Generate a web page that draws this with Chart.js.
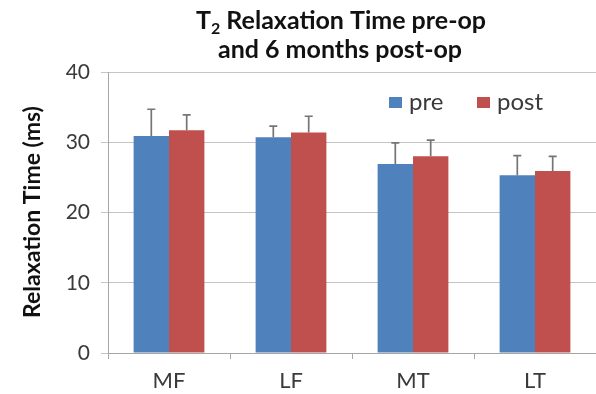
<!DOCTYPE html>
<html>
<head>
<meta charset="utf-8">
<script src="https://cdn.jsdelivr.net/npm/chart.js@4"></script>
<style>
  html, body { margin: 0; padding: 0; background: #fff; }
  #wrap { width: 596px; height: 394px; }
</style>
</head>
<body>
<div id="wrap"><canvas id="chart" width="596" height="394"></canvas></div>
<script>
// Knee cartilage regions
const regions = ['MF', 'LF', 'MT', 'LT'];
// Mean T2 relaxation time (ms)
const preValues = [30.9, 30.7, 26.9, 25.3];
const postValues = [31.7, 31.4, 28.0, 25.9];
// Standard deviations (upper error bars)
const preErrors = [3.8, 1.6, 3.0, 2.8];
const postErrors = [2.2, 2.3, 2.3, 2.1];
// Y axis ticks
const yTicks = [0, 10, 20, 30, 40];

const FONT = 'Lato, "Open Sans", sans-serif';
const BLUE = '#4F81BD';
const RED = '#C0504D';
const TEXT = '#3a3a3a';

const errorBars = {
  id: 'errorBars',
  afterDatasetsDraw(chart) {
    const ctx = chart.ctx;
    const y = chart.scales.y;
    ctx.save();
    ctx.strokeStyle = '#757575';
    ctx.lineWidth = 1.7;
    chart.data.datasets.forEach((ds, di) => {
      const meta = chart.getDatasetMeta(di);
      meta.data.forEach((bar, i) => {
        const top = y.getPixelForValue(ds.data[i] + ds.errors[i]);
        const base = y.getPixelForValue(ds.data[i]);
        ctx.beginPath();
        ctx.moveTo(bar.x, base);
        ctx.lineTo(bar.x, top);
        ctx.moveTo(bar.x - 4, top);
        ctx.lineTo(bar.x + 4, top);
        ctx.stroke();
      });
    });
    ctx.restore();
  }
};

const decorations = {
  id: 'decorations',
  afterDraw(chart) {
    const ctx = chart.ctx;
    ctx.save();
    // Title with subscript 2
    ctx.fillStyle = '#111';
    ctx.textBaseline = 'alphabetic';
    ctx.textAlign = 'left';
    const big = 'bold 25px ' + FONT;
    const small = 'bold 16px ' + FONT;
    ctx.font = big;
    const wT = ctx.measureText('T').width;
    const rest = ' Relaxation Time pre-op';
    const wRest = ctx.measureText(rest).width;
    ctx.font = small;
    const w2 = ctx.measureText('2').width;
    const total = wT + w2 + wRest;
    const x = 341 - total / 2;
    ctx.font = big;
    ctx.fillText('T', x, 29);
    ctx.font = small;
    ctx.fillText('2', x + wT, 34);
    ctx.font = big;
    ctx.fillText(rest, x + wT + w2, 29);
    ctx.textAlign = 'center';
    ctx.fillText('and 6 months post-op', 340, 58);

    // Y axis title
    ctx.save();
    ctx.translate(33, 212);
    ctx.rotate(-Math.PI / 2);
    ctx.font = 'bold 23px ' + FONT;
    ctx.textAlign = 'center';
    ctx.textBaseline = 'middle';
    ctx.fillText('Relaxation Time (ms)', 0, 0);
    ctx.restore();

    // Legend
    ctx.font = '24px ' + FONT;
    ctx.textAlign = 'left';
    ctx.textBaseline = 'middle';
    const items = [
      { label: chart.data.datasets[0].label, color: BLUE, x: 389 },
      { label: chart.data.datasets[1].label, color: RED, x: 477 }
    ];
    items.forEach(it => {
      ctx.fillStyle = it.color;
      ctx.fillRect(it.x, 97, 13, 11);
      ctx.fillStyle = TEXT;
      ctx.fillText(it.label, it.x + 20, 102);
    });
    ctx.restore();
  }
};

new Chart(document.getElementById('chart'), {
  type: 'bar',
  data: {
    labels: regions,
    datasets: [
      { label: 'pre', data: preValues, errors: preErrors, backgroundColor: BLUE },
      { label: 'post', data: postValues, errors: postErrors, backgroundColor: RED }
    ]
  },
  options: {
    responsive: false,
    animation: false,
    devicePixelRatio: 1,
    layout: { padding: { top: 72, right: 0, left: 0, bottom: 0 } },
    datasets: { bar: { barPercentage: 1, categoryPercentage: 0.58 } },
    plugins: { legend: { display: false }, title: { display: false }, tooltip: { enabled: false } },
    scales: {
      x: {
        grid: { drawOnChartArea: false, drawTicks: true, tickLength: 6, color: '#a6a6a6' },
        border: { color: '#a6a6a6' },
        ticks: { color: TEXT, font: { family: FONT, size: 22 }, padding: 9 },
        afterFit(scale) { scale.height = 41; }
      },
      y: {
        min: 0, max: 40,
        afterBuildTicks(scale) { scale.ticks = yTicks.map(v => ({ value: v })); },
        grid: { color: '#c4c4c4', tickLength: 7 },
        border: { color: '#a6a6a6' },
        ticks: { color: TEXT, font: { family: FONT, size: 21 }, padding: 11 },
        afterFit(scale) { scale.width = 108; }
      }
    }
  },
  plugins: [errorBars, decorations]
});
</script>
</body>
</html>
